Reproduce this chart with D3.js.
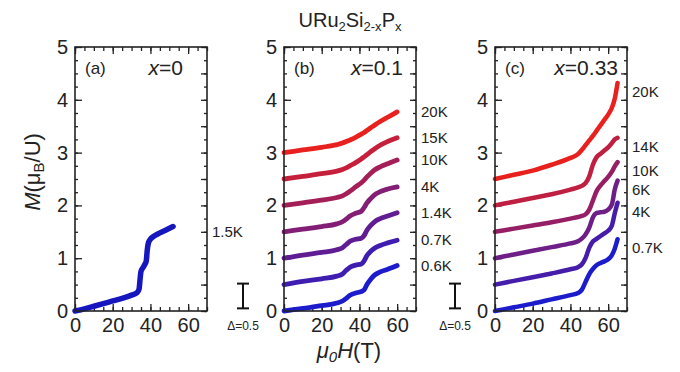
<!DOCTYPE html>
<html>
<head>
<meta charset="utf-8">
<script src="https://cdn.jsdelivr.net/npm/d3@7"></script>
<style>
  body { margin: 0; background: #fff; }
  text { font-family: "Liberation Sans", Arial, sans-serif; fill: #222; }
</style>
</head>
<body>
<script>
// ---- data ----
var panelTags = ["(a)", "(b)", "(c)"];
var dopings = ["0", "0.1", "0.33"];

// panel (a), x = 0, 1.5 K
var tempsA = ["1.5K"];
var fieldA = [0, 5, 10, 15, 20, 25, 30, 33, 34, 34.5, 35, 36, 37, 37.8, 38.3, 39, 40, 42, 45, 48, 52];
var magA = [[0, 0.04, 0.09, 0.14, 0.19, 0.24, 0.3, 0.35, 0.42, 0.6, 0.75, 0.82, 0.88, 0.95, 1.15, 1.3, 1.36, 1.42, 1.48, 1.53, 1.6]];
var offsetsA = [0];

// panel (b), x = 0.1 (curves shifted by 0.5 each)
var tempsB = ["0.6K", "0.7K", "1.4K", "4K", "10K", "15K", "20K"];
var fieldB = [0, 10, 20, 28, 31, 33, 35, 38, 41, 42.5, 44, 46, 48, 51, 55, 60];
var magB = [
  [0, 0.05, 0.1, 0.15, 0.19, 0.24, 0.3, 0.34, 0.37, 0.4, 0.5, 0.6, 0.68, 0.74, 0.79, 0.86],
  [0, 0.06, 0.11, 0.16, 0.2, 0.27, 0.33, 0.37, 0.39, 0.45, 0.55, 0.63, 0.69, 0.74, 0.79, 0.84],
  [0, 0.06, 0.11, 0.16, 0.2, 0.26, 0.32, 0.36, 0.38, 0.43, 0.53, 0.62, 0.69, 0.75, 0.8, 0.86],
  [0, 0.05, 0.1, 0.15, 0.19, 0.24, 0.3, 0.35, 0.39, 0.46, 0.55, 0.63, 0.7, 0.76, 0.81, 0.85],
  [0, 0.05, 0.1, 0.15, 0.18, 0.22, 0.27, 0.35, 0.43, 0.48, 0.54, 0.61, 0.67, 0.73, 0.79, 0.86],
  [0, 0.05, 0.1, 0.15, 0.18, 0.21, 0.25, 0.31, 0.38, 0.42, 0.46, 0.52, 0.57, 0.64, 0.71, 0.78],
  [0, 0.05, 0.1, 0.15, 0.18, 0.21, 0.24, 0.29, 0.35, 0.38, 0.42, 0.47, 0.52, 0.59, 0.67, 0.77]
];
var offsetsB = [0, 0.5, 1, 1.5, 2, 2.5, 3];

// panel (c), x = 0.33
var tempsC = ["0.7K", "4K", "6K", "10K", "14K", "20K"];
var fieldC = [0, 10, 20, 30, 40, 44, 46, 48, 50, 52, 54, 56, 58, 60, 62, 63.5, 65];
var magC = [
  [0, 0.07, 0.14, 0.22, 0.3, 0.34, 0.4, 0.55, 0.7, 0.8, 0.87, 0.91, 0.94, 0.98, 1.06, 1.18, 1.36],
  [0, 0.07, 0.14, 0.21, 0.29, 0.33, 0.38, 0.5, 0.7, 0.82, 0.87, 0.92, 0.97, 1.02, 1.12, 1.35, 1.55],
  [0, 0.07, 0.14, 0.21, 0.28, 0.32, 0.37, 0.45, 0.58, 0.78, 0.86, 0.87, 0.88, 0.92, 1.02, 1.3, 1.47],
  [0, 0.06, 0.12, 0.18, 0.25, 0.28, 0.3, 0.33, 0.42, 0.6, 0.78, 0.88, 0.96, 1.04, 1.14, 1.24, 1.32],
  [0, 0.07, 0.14, 0.21, 0.3, 0.34, 0.37, 0.42, 0.55, 0.78, 0.92, 0.98, 1.04, 1.1, 1.18, 1.25, 1.28],
  [0, 0.08, 0.16, 0.27, 0.4, 0.47, 0.55, 0.64, 0.73, 0.82, 0.92, 1.02, 1.12, 1.22, 1.35, 1.52, 1.82]
];
var offsetsC = [0, 0.5, 1, 1.5, 2, 2.5];

var xTicks = [0, 20, 40, 60];
var yTicks = [0, 1, 2, 3, 4, 5];

// ---- layout ----
var W = 680, H = 372;
var plotTop = 47, plotBottom = 311, pw = 132;
var panelX = [75, 284, 495];
var lineW = [5.5, 4.8, 4.5];
var labelShift = [5, 0, 9];
var dopGap = [24, 13, 9];

var panels = [
  {field: fieldA, mag: magA, offs: offsetsA, temps: tempsA},
  {field: fieldB, mag: magB, offs: offsetsB, temps: tempsB},
  {field: fieldC, mag: magC, offs: offsetsC, temps: tempsC}
];

var svg = d3.select("body").append("svg")
  .attr("width", W).attr("height", H);

var blue = "rgb(28,28,205)", red = "rgb(232,32,30)";

panels.forEach(function(p, i){
  var x0 = panelX[i];
  var x = d3.scaleLinear().domain([0, 70]).range([x0, x0 + pw]);
  var y = d3.scaleLinear().domain([0, 5]).range([plotBottom, plotTop]);
  var col = d3.scaleLinear().domain([0, Math.max(1, p.mag.length - 1)])
    .range([blue, red]).interpolate(d3.interpolateRgb);

  var g = svg.append("g");

  // minor ticks
  var minorX = d3.range(0, 71, 5), minorY = d3.range(0, 5.01, 0.25);
  [[d3.axisBottom(x), "translate(0," + plotBottom + ")"],
   [d3.axisTop(x), "translate(0," + plotTop + ")"]].forEach(function(a){
    g.append("g").attr("transform", a[1])
      .call(a[0].tickValues(minorX).tickSize(-4).tickFormat(""));
  });
  [[d3.axisLeft(y), "translate(" + x0 + ",0)"],
   [d3.axisRight(y), "translate(" + (x0 + pw) + ",0)"]].forEach(function(a){
    g.append("g").attr("transform", a[1])
      .call(a[0].tickValues(minorY).tickSize(-3).tickFormat(""));
  });
  // major ticks + labels
  g.append("g").attr("transform", "translate(0," + plotBottom + ")")
    .call(d3.axisBottom(x).tickValues(xTicks).tickSize(-7).tickPadding(7).tickFormat(d3.format("d")));
  g.append("g").attr("transform", "translate(0," + plotTop + ")")
    .call(d3.axisTop(x).tickValues(xTicks).tickSize(-7).tickFormat(""));
  g.append("g").attr("transform", "translate(" + x0 + ",0)")
    .call(d3.axisLeft(y).tickValues(yTicks).tickSize(-7).tickPadding(7).tickFormat(d3.format("d")));
  g.append("g").attr("transform", "translate(" + (x0 + pw) + ",0)")
    .call(d3.axisRight(y).tickValues(d3.range(0, 5.01, 0.5)).tickSize(-6).tickFormat(""));

  g.selectAll(".domain").remove();
  g.selectAll(".tick line").attr("stroke", "#222").attr("stroke-width", 1.3);
  g.selectAll(".tick text").attr("font-size", 20).attr("fill", "#3a3a3a")
    .style("font-family", "'Liberation Sans', Arial, sans-serif");

  // curves
  var line = d3.line()
    .curve(d3.curveMonotoneX)
    .x(function(d){ return x(d[0]); })
    .y(function(d){ return y(d[1]); });
  p.mag.forEach(function(m, k){
    var pts = p.field.map(function(h, j){ return [h, m[j] + p.offs[k]]; });
    g.append("path").datum(pts)
      .attr("d", line)
      .attr("fill", "none")
      .attr("stroke", i === 0 ? "rgb(22,22,190)" : col(k))
      .attr("stroke-width", lineW[i])
      .attr("stroke-linecap", "round")
      .attr("stroke-linejoin", "round");
    var last = pts[pts.length - 1];
    g.append("text")
      .attr("x", x0 + pw + 5)
      .attr("y", y(last[1]) + labelShift[i])
      .attr("dy", "0.35em")
      .attr("font-size", 15)
      .text(p.temps[k]);
  });

  // frame
  g.append("rect").attr("x", x0).attr("y", plotTop).attr("width", pw).attr("height", plotBottom - plotTop)
    .attr("fill", "none").attr("stroke", "#222").attr("stroke-width", 1.6);

  // tag and doping
  g.append("text").attr("x", x0 + 10).attr("y", plotTop + 27).attr("font-size", 17).text(panelTags[i]);
  var dt = g.append("text").attr("x", x0 + pw - dopGap[i]).attr("y", plotTop + 28)
    .attr("text-anchor", "end").attr("font-size", 21);
  dt.append("tspan").attr("font-style", "italic").text("x");
  dt.append("tspan").text("=" + dopings[i]);
});

// scale bars  (Δ = 0.5)
var ybar = d3.scaleLinear().domain([0, 5]).range([plotBottom, plotTop]);
[243, 455].forEach(function(bx){
  var b = svg.append("g").attr("stroke", "#111").attr("stroke-width", 2);
  b.append("line").attr("x1", bx).attr("x2", bx).attr("y1", ybar(0.05)).attr("y2", ybar(0.5) - 1);
  b.append("line").attr("x1", bx - 6).attr("x2", bx + 6).attr("y1", ybar(0.5) - 1).attr("y2", ybar(0.5) - 1);
  b.append("line").attr("x1", bx - 6).attr("x2", bx + 6).attr("y1", ybar(0.05)).attr("y2", ybar(0.05));
  svg.append("text").attr("x", bx).attr("y", 330).attr("text-anchor", "middle")
    .attr("font-size", 12).text("Δ=0.5");
});

// title
var t = svg.append("text").attr("x", 350).attr("y", 27).attr("text-anchor", "middle").attr("font-size", 20);
t.append("tspan").text("URu");
t.append("tspan").attr("font-size", 13).attr("dy", 4).text("2");
t.append("tspan").attr("dy", -4).text("Si");
t.append("tspan").attr("font-size", 13).attr("dy", 4).text("2-x");
t.append("tspan").attr("dy", -4).text("P");
t.append("tspan").attr("font-size", 13).attr("dy", 4).text("x");

// axis titles
var xl = svg.append("text").attr("x", 349).attr("y", 358).attr("text-anchor", "middle").attr("font-size", 22);
xl.append("tspan").attr("font-style", "italic").text("μ");
xl.append("tspan").attr("font-style", "italic").attr("font-size", 15).attr("dy", 4).text("0");
xl.append("tspan").attr("font-style", "italic").attr("dy", -4).text("H");
xl.append("tspan").text("(T)");

var yl = svg.append("text").attr("transform", "translate(40,172) rotate(-90)")
  .attr("text-anchor", "middle").attr("font-size", 22);
yl.append("tspan").attr("font-style", "italic").text("M");
yl.append("tspan").text("(μ");
yl.append("tspan").attr("font-size", 15).attr("dy", 4).text("B");
yl.append("tspan").attr("dy", -4).text("/U)");
</script>
</body>
</html>
